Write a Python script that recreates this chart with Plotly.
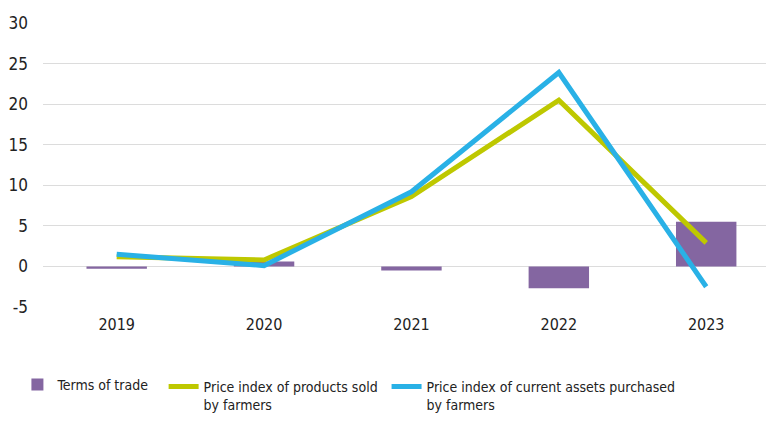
import plotly.graph_objects as go

years = ["2019", "2020", "2021", "2022", "2023"]
terms_of_trade = [-0.3, 0.6, -0.5, -2.7, 5.5]
products_sold = [1.2, 0.8, 8.6, 20.5, 2.9]
assets_purchased = [1.5, 0.1, 9.2, 23.9, -2.5]
y_ticks = [-5, 0, 5, 10, 15, 20, 25, 30]
y_tick_labels = ["-5", "0", "5", "10", "15", "20", "25", "30"]

FONT = "DejaVu Sans Condensed, Roboto, sans-serif"
TXT = "#222222"

fig = go.Figure()
fig.add_trace(go.Bar(
    x=years, y=terms_of_trade, name="Terms of trade",
    marker=dict(color="#8466A1", line=dict(width=0)), width=0.41,
    legend="legend",
))
fig.add_trace(go.Scatter(
    x=years, y=products_sold, name="Price index of products sold<br>by farmers",
    mode="lines", line=dict(color="#BEC800", width=5), legend="legend2",
))
fig.add_trace(go.Scatter(
    x=years, y=assets_purchased, name="Price index of current assets purchased<br>by farmers",
    mode="lines", line=dict(color="#29B1E6", width=5), legend="legend3",
))

leg_common = dict(
    orientation="h", yanchor="top", xanchor="left", valign="top",
    font=dict(family=FONT, size=14, color=TXT), bgcolor="rgba(0,0,0,0)",
)
fig.update_layout(
    width=766, height=413,
    margin=dict(l=35, r=0, t=15, b=113),
    paper_bgcolor="white", plot_bgcolor="white",
    font=dict(family=FONT, size=15, color=TXT),
    showlegend=True,
    legend=dict(x=-0.035, y=-0.214, **leg_common),
    legend2=dict(x=0.165, y=-0.225, **leg_common),
    legend3=dict(x=0.47, y=-0.225, **leg_common),
    bargap=0.59,
)
fig.update_xaxes(
    type="category", range=[-0.5, 4.46], showgrid=False, zeroline=False,
    showline=False, ticks="", ticklabelstandoff=6,
    tickfont=dict(family=FONT, size=16, color=TXT),
)
fig.update_yaxes(
    range=[-5, 30], tickvals=y_ticks, ticktext=y_tick_labels,
    showgrid=True, gridcolor="#DCDCDC", gridwidth=1,
    zeroline=True, zerolinecolor="#DCDCDC", zerolinewidth=1, showline=False,
    ticks="", ticklabelstandoff=14, tickfont=dict(family=FONT, size=17, color=TXT),
)
fig.write_html("out.html")
